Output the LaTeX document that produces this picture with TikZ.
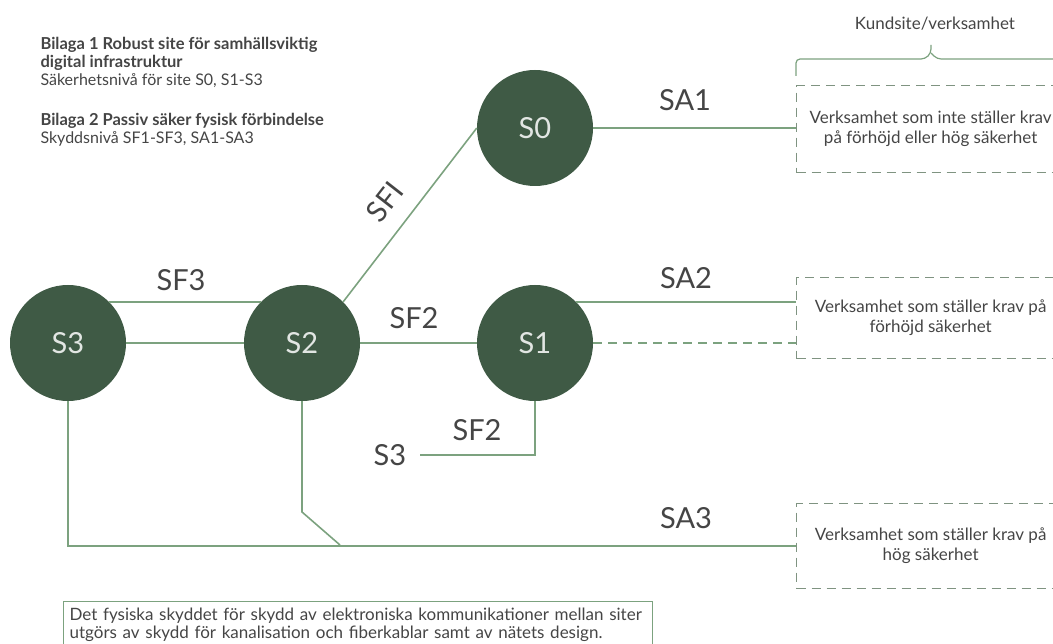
\documentclass[tikz,border=0pt]{standalone}
\usepackage{fontspec}
\setmainfont{Lato}
\definecolor{sitegreen}{HTML}{3F5A45}
\definecolor{linegreen}{HTML}{7CA27F}
\definecolor{boxgrey}{HTML}{7F9381}
\definecolor{textgrey}{HTML}{454545}
\begin{document}
\begin{tikzpicture}[x=1pt, y=-1pt,
  site/.style={circle, fill=sitegreen, minimum size=116pt, inner sep=0pt,
    text=white!85!sitegreen, font=\fontsize{29}{34}\selectfont},
  link/.style={linegreen, line width=1.6pt},
  tag/.style={text=textgrey, font=\fontsize{29}{34}\selectfont},
  kundbox/.style={draw=boxgrey, dash pattern=on 9pt off 6pt, line width=1.3pt,
    minimum width=268pt, minimum height=87pt, anchor=north west, align=center,
    text=textgrey, font=\fontsize{17}{20}\selectfont},
  info/.style={anchor=west, text=textgrey, font=\fontsize{16}{19}\selectfont}]
  \useasboundingbox (0,0) rectangle (1053,644);

  % Texto
  \node[info, font=\fontsize{16.5}{19}\bfseries] (bil1a) at (37,45) {Bilaga 1 Robust site för samhällsviktig};
  \node[info, font=\fontsize{16.5}{19}\bfseries] (bil1b) at (37,63) {digital infrastruktur};
  \node[info] (bil1c) at (37,81) {Säkerhetsnivå för site S0, S1-S3};
  \node[info, font=\fontsize{16.5}{19}\bfseries] (bil2a) at (37,121) {Bilaga 2 Passiv säker fysisk förbindelse};
  \node[info] (bil2b) at (37,139) {Skyddsnivå SF1-SF3, SA1-SA3};

  % Sites
  \node[site] (s0) at (535,128) {S0};
  \node[site] (s1) at (535,343) {S1};
  \node[site] (s2) at (302,343) {S2};
  \node[site] (s3) at (68,343) {S3};

  % Kundsite
  \node[text=textgrey, font=\fontsize{17}{20}\selectfont] (kund) at (935,24) {Kundsite/verksamhet};
  \draw[link, line width=1.2pt, rounded corners=4pt] (796,76) |- (925,59) -- (931,53) -- (931,45);
  \draw[link, line width=1.2pt, rounded corners=4pt] (931,53) -- (937,59) -- (1060,59);
  \node[kundbox] (box1) at (796,85) {Verksamhet som inte ställer krav\\på förhöjd eller hög säkerhet};
  \node[kundbox, minimum height=81pt] (box2) at (796,277) {Verksamhet som ställer krav på\\förhöjd säkerhet};
  \node[kundbox, minimum height=85pt] (box3) at (796,503) {Verksamhet som ställer krav på\\hög säkerhet};

  % Conexiones
  \draw[link] (s3.45) -- (s2.135);
  \draw[link] (s3) -- (s2);
  \draw[link] (s2) -- (s1);
  \draw[link] (s2.45) -- (s0.west);
  \draw[link] (s0.east) -- (s0.east -| box1.west);
  \draw[link] (s1.45) -- (s1.45 -| box2.west);
  \draw[link, dash pattern=on 9pt off 6pt] (s1.east) -- (s1.east -| box2.west);
  \coordinate (s3end) at (420,455);
  \draw[link] (s1.south) |- (s3end);
  \draw[link] (s3.south) |- (box3.west);
  \coordinate (bend) at (302,512);
  \coordinate (join) at (340,545);
  \draw[link] (s2.south) -- (bend) -- (join);

  % Etiquetas
  \node[tag] (sf3) at (181,280) {SF3};
  \node[tag] (sf2) at (414,318) {SF2};
  \node[tag, rotate=52] (sf1) at (385,202) {SFI};
  \node[tag] (sa1) at (685,100) {SA1};
  \node[tag] (sa2) at (686,278) {SA2};
  \node[tag] (sa3) at (686,518) {SA3};
  \node[tag] (sf2b) at (477,430) {SF2};
  \node[tag] (s3ref) at (390,455) {S3};

  % Nota
  \node[draw=linegreen, line width=1.2pt, anchor=north west, inner sep=6pt,
    text width=577pt, align=left, text=textgrey, font=\fontsize{17}{18.5}\selectfont]
    (note) at (63,601) {Det fysiska skyddet för skydd av elektroniska kommunikationer mellan siter\\
    utgörs av skydd för kanalisation och fiberkablar samt av nätets design.};
\end{tikzpicture}
\end{document}
